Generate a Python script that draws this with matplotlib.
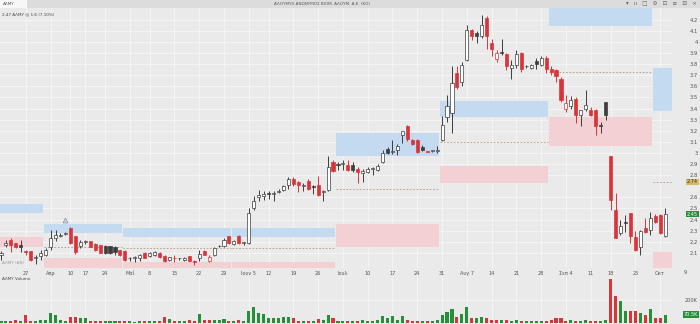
import matplotlib.pyplot as plt
import matplotlib.transforms as mtrans
from matplotlib.patches import Rectangle

# daily OHLC (EUR)
opens = [2.08, 2.17, 2.22, 2.19, 2.17, 2.12, 2.12, 2.05, 2.07, 2.08,
         2.15, 2.23, 2.25, 2.27, 2.32, 2.25, 2.16, 2.20, 2.21, 2.18,
         2.17, 2.16, 2.16, 2.15, 2.13, 2.12, 2.05, 2.05, 2.05, 2.10,
         2.07, 2.08, 2.10, 2.07, 2.04, 2.05, 2.05, 2.04, 2.07, 2.03,
         2.05, 2.12, 2.03, 2.08, 2.16, 2.16, 2.25, 2.18, 2.25, 2.19,
         2.19, 2.50, 2.60, 2.61, 2.64, 2.63, 2.65, 2.67, 2.71, 2.77,
         2.74, 2.70, 2.75, 2.70, 2.71, 2.65, 2.67, 2.92, 2.90, 2.90,
         2.89, 2.89, 2.86, 2.82, 2.83, 2.86, 2.85, 2.92, 3.04, 3.01,
         3.03, 3.16, 3.24, 3.12, 3.12, 3.05, 3.02, 3.02, 3.02, 3.12,
         3.32, 3.36, 3.72, 3.64, 3.84, 4.11, 4.08, 4.05, 4.22, 3.99,
         3.85, 3.91, 3.89, 3.77, 3.79, 3.90, 3.78, 3.77, 3.83, 3.79,
         3.86, 3.76, 3.75, 3.67, 3.40, 3.42, 3.49, 3.34, 3.40, 3.39,
         3.39, 3.25, 3.46, 2.97, 2.49, 2.28, 2.38, 2.46, 2.24, 2.15,
         2.32, 2.31, 2.43, 2.44, 2.25]
highs = [2.12, 2.22, 2.23, 2.19, 2.22, 2.13, 2.12, 2.08, 2.13, 2.14,
         2.31, 2.31, 2.28, 2.29, 2.33, 2.25, 2.22, 2.22, 2.21, 2.19,
         2.17, 2.17, 2.16, 2.16, 2.13, 2.13, 2.06, 2.07, 2.09, 2.11,
         2.11, 2.12, 2.11, 2.08, 2.06, 2.08, 2.05, 2.06, 2.07, 2.04,
         2.13, 2.13, 2.08, 2.15, 2.17, 2.23, 2.25, 2.22, 2.26, 2.20,
         2.50, 2.61, 2.67, 2.66, 2.66, 2.66, 2.68, 2.71, 2.78, 2.78,
         2.75, 2.73, 2.77, 2.71, 2.79, 2.67, 2.97, 2.94, 2.92, 2.94,
         2.94, 2.92, 2.87, 2.86, 2.87, 2.87, 2.90, 3.03, 3.05, 3.12,
         3.08, 3.20, 3.25, 3.13, 3.13, 3.07, 3.02, 3.03, 3.06, 3.33,
         3.52, 3.78, 3.78, 3.82, 4.15, 4.12, 4.10, 4.24, 4.23, 4.03,
         3.93, 4.03, 3.90, 3.84, 3.93, 3.91, 3.79, 3.80, 3.86, 3.87,
         3.87, 3.78, 3.76, 3.68, 3.52, 3.51, 3.50, 3.39, 3.57, 3.41,
         3.40, 3.28, 3.46, 2.97, 2.64, 2.40, 2.44, 2.46, 2.30, 2.31,
         2.41, 2.47, 2.45, 2.45, 2.50]
lows = [2.04, 2.15, 2.11, 2.14, 2.11, 2.08, 2.03, 2.00, 2.04, 2.07,
        2.13, 2.21, 2.24, 2.26, 2.18, 2.09, 2.14, 2.18, 2.15, 2.12,
        2.10, 2.09, 2.09, 2.08, 2.07, 2.03, 2.03, 2.02, 2.03, 2.05,
        2.06, 2.07, 2.05, 2.02, 2.03, 2.02, 2.04, 2.03, 2.03, 1.99,
        2.03, 2.08, 2.02, 2.07, 2.15, 2.15, 2.18, 2.17, 2.18, 2.17,
        2.18, 2.49, 2.57, 2.58, 2.59, 2.57, 2.64, 2.66, 2.68, 2.70,
        2.65, 2.66, 2.67, 2.63, 2.61, 2.57, 2.66, 2.83, 2.85, 2.85,
        2.84, 2.83, 2.73, 2.74, 2.82, 2.80, 2.84, 2.91, 2.99, 2.99,
        2.98, 3.09, 3.11, 3.07, 3.00, 3.02, 3.01, 3.01, 3.00, 3.11,
        3.28, 3.18, 3.58, 3.60, 3.83, 4.02, 3.99, 4.04, 3.94, 3.87,
        3.82, 3.88, 3.75, 3.67, 3.77, 3.73, 3.77, 3.76, 3.76, 3.78,
        3.72, 3.70, 3.64, 3.46, 3.37, 3.40, 3.27, 3.24, 3.38, 3.33,
        3.16, 3.18, 3.30, 2.49, 2.23, 2.26, 2.29, 2.19, 2.12, 2.08,
        2.28, 2.26, 2.37, 2.27, 2.24]
closes = [2.10, 2.19, 2.17, 2.15, 2.15, 2.11, 2.04, 2.06, 2.10, 2.13,
          2.23, 2.26, 2.26, 2.28, 2.19, 2.11, 2.20, 2.21, 2.15, 2.13,
          2.10, 2.10, 2.10, 2.11, 2.08, 2.04, 2.05, 2.06, 2.08, 2.05,
          2.10, 2.11, 2.06, 2.03, 2.06, 2.05, 2.05, 2.05, 2.03, 2.02,
          2.09, 2.08, 2.06, 2.14, 2.16, 2.22, 2.19, 2.21, 2.19, 2.19,
          2.46, 2.57, 2.62, 2.63, 2.63, 2.64, 2.66, 2.70, 2.77, 2.72,
          2.71, 2.71, 2.68, 2.69, 2.62, 2.66, 2.87, 2.84, 2.89, 2.91,
          2.85, 2.85, 2.83, 2.84, 2.86, 2.86, 2.88, 3.00, 3.00, 3.02,
          3.06, 3.20, 3.13, 3.08, 3.01, 3.03, 3.01, 3.02, 3.02, 3.25,
          3.42, 3.63, 3.59, 3.79, 4.11, 4.05, 4.05, 4.15, 4.05, 3.94,
          3.90, 3.90, 3.78, 3.79, 3.89, 3.76, 3.78, 3.79, 3.80, 3.86,
          3.76, 3.73, 3.69, 3.48, 3.45, 3.48, 3.34, 3.39, 3.43, 3.34,
          3.24, 3.24, 3.34, 2.58, 2.23, 2.34, 2.37, 2.25, 2.13, 2.30,
          2.29, 2.41, 2.38, 2.28, 2.45]
# volume in thousands of shares
volumes = [15, 20, 18, 22, 15, 70, 20, 18, 22, 25,
           90, 70, 25, 20, 55, 55, 40, 40, 20, 15,
           18, 20, 15, 18, 15, 20, 15, 12, 15, 18,
           15, 20, 18, 50, 35, 15, 20, 15, 25, 20,
           80, 25, 30, 30, 25, 35, 20, 20, 25, 20,
           105, 140, 90, 80, 40, 40, 45, 50, 50, 40,
           20, 15, 20, 20, 35, 25, 70, 45, 20, 15,
           18, 20, 15, 25, 20, 20, 30, 60, 45, 60,
           30, 60, 25, 20, 20, 15, 15, 18, 30, 70,
           100, 120, 50, 80, 135, 45, 45, 50, 45, 30,
           25, 30, 25, 20, 30, 20, 15, 15, 15, 15,
           18, 25, 40, 45, 20, 25, 20, 18, 25, 15,
           20, 20, 30, 385, 235, 195, 105, 105, 105, 90,
           70, 120, 45, 45, 70.5]

# weekly date axis (trading-day index -> label)
tick_idx = [5, 10, 14, 17, 21, 26, 30, 35, 40, 45, 50, 54, 59, 64, 69,
            74, 79, 84, 89, 94, 99, 104, 109, 114, 119, 123, 128, 133]
tick_labels = ["27", "Απρ", "10", "17", "24", "Μαΐ", "8", "15", "22", "29",
               "Ιουν 5", "12", "19", "26", "Ιουλ", "10", "17", "24", "31",
               "Αυγ 7", "14", "21", "28", "Σεπ 4", "11", "18", "25", "Οκτ"]
extra_tick = (138, "9")

# monthly zones: first trading day of each month, upper (blue) and lower (pink) bands
month_start = [0, 9, 25, 47, 68, 89, 111, 132]
upper_lo = [2.46, 2.28, 2.24, 2.24, 2.97, 3.32, 4.14, 3.38]
upper_hi = [2.54, 2.36, 2.32, 2.32, 3.18, 3.47, 4.32, 3.77]
lower_lo = [2.15, 1.90, 1.90, 1.90, 2.15, 2.73, 3.06, 1.90]
lower_hi = [2.24, 2.05, 2.02, 2.02, 2.36, 2.88, 3.32, 2.11]
mid_line = [None, 2.15, 2.14, 2.14, 2.68, 3.10, 3.73, 2.74]

last_price = closes[-1]
ref_price = 2.74

BG = "#eaeaea"
GRID = "#f6f6f6"
RED = "#d8353b"
DARK = "#3d3d3d"
GREEN = "#23913a"

W, H = 700, 324
fig = plt.figure(figsize=(7, 3.24), dpi=100, facecolor=BG)
ax = fig.add_axes([0, 56 / H, 672 / W, 260 / H], facecolor=BG)
vax = fig.add_axes([0, 1 / H, 672 / W, 46 / H], facecolor=BG, sharex=ax)

n = len(closes)
xs = list(range(n))
xmax = 135.4

# zones
for k, s in enumerate(month_start):
    e = month_start[k + 1] if k + 1 < len(month_start) else xmax + 2
    x0, x1 = s - 0.4, e - 0.6
    ax.add_patch(Rectangle((x0, upper_lo[k]), x1 - x0, upper_hi[k] - upper_lo[k],
                           fc="#c4daf0", ec="none", zorder=1))
    ax.add_patch(Rectangle((x0, lower_lo[k]), x1 - x0, lower_hi[k] - lower_lo[k],
                           fc="#f3d0d4", ec="none", zorder=1))
    if mid_line[k] is not None:
        ax.hlines(mid_line[k], x0, x1, colors="#b39b7a", linestyles=(0, (2, 2)),
                  lw=0.6, zorder=1.5)

# candles (hollow style)
edge, fill, vcol = [], [], []
for i in range(n):
    prev = closes[i - 1] if i > 0 else opens[i]
    c = RED if closes[i] < prev else DARK
    edge.append(c)
    fill.append(c if closes[i] < opens[i] else "white")
    vcol.append(RED if closes[i] < prev else GREEN)

ax.vlines(xs, lows, highs, colors=edge, lw=0.7, zorder=2)
bottoms = [min(o, c) for o, c in zip(opens, closes)]
heights = [max(abs(c - o), 0.006) for o, c in zip(opens, closes)]
ax.bar(xs, heights, bottom=bottoms, width=0.62, color=fill, edgecolor=edge,
       linewidth=0.5, zorder=3)

# signal marker
ax.plot([13], [2.40], marker="^", ms=3.5, mfc="#c9d6e6", mec="#7f93ab", mew=0.5,
        ls="none", zorder=4)

ax.set_xlim(-0.2, xmax)
ax.set_ylim(1.964, 4.306)

# 2.7 sits under the highlighted reference-price tag
yt = [round(2.1 + 0.1 * k, 1) for k in range(22) if k != 6]
ax.set_yticks(yt)
ax.set_yticklabels([f"{v:g}" for v in yt])
ax.yaxis.tick_right()
ax.tick_params(axis="y", length=0, pad=18.5, labelsize=3.8, colors="#555555")
for t in ax.get_yticklabels():
    t.set_horizontalalignment("right")

ax.set_xticks(tick_idx)
ax.set_xticklabels(tick_labels)
ax.tick_params(axis="x", length=0, pad=2.2, labelsize=3.6, colors="#555555")
ax.text(extra_tick[0], -0.019, extra_tick[1], transform=ax.get_xaxis_transform(),
        ha="center", va="center", fontsize=3.6, color="#555555")

ax.grid(True, color=GRID, lw=0.6, zorder=0)
ax.set_axisbelow(True)
for sp in ax.spines.values():
    sp.set_visible(False)

# right-axis highlighted labels
bl = mtrans.blended_transform_factory(ax.transAxes, ax.transData)
ax.text(1.0387, ref_price, f"{ref_price:.2f}", transform=bl, ha="right", va="center",
        fontsize=3.6, color="#333333", zorder=6,
        bbox=dict(boxstyle="square,pad=0.15", fc="#d9b862", ec="none"))
ax.text(1.0387, last_price, f"{last_price:.2f}", transform=bl, ha="right", va="center",
        fontsize=3.6, color="white", zorder=6,
        bbox=dict(boxstyle="square,pad=0.15", fc=GREEN, ec="none"))

ax.text(0.003, 0.985, "2.47 ΑΛΜΥ @ 1.6 (7.10%)", transform=ax.transAxes,
        ha="left", va="top", fontsize=3, color="#444444")
ax.text(0.003, 0.012, "ΑΛΜΥ (ΑΝ)", transform=ax.transAxes, ha="left", va="bottom",
        fontsize=3, color="#9a9a9a")

# volume panel
vax.bar(xs, volumes, width=0.62, color=vcol, zorder=3)
vax.set_ylim(0, 400)
vax.set_yticks([200])
vax.set_yticklabels(["200K"])
vax.yaxis.tick_right()
vax.tick_params(axis="y", length=0, pad=18.5, labelsize=3.6, colors="#555555")
for t in vax.get_yticklabels():
    t.set_horizontalalignment("right")
vax.tick_params(axis="x", length=0, labelbottom=False)
vax.grid(True, color=GRID, lw=0.6, zorder=0)
vax.set_axisbelow(True)
for sp in vax.spines.values():
    sp.set_visible(False)
vax.text(0.003, 0.99, "ΑΛΜΥ Volume", transform=vax.transAxes, ha="left", va="top",
         fontsize=3, color="#444444")
vbl = mtrans.blended_transform_factory(vax.transAxes, vax.transData)
vax.text(1.0387, volumes[-1], f"{volumes[-1]:.1f}K", transform=vbl, ha="right",
         va="center", fontsize=3.6, color="white", zorder=6,
         bbox=dict(boxstyle="square,pad=0.2", fc=GREEN, ec="none"))

# window header strip
fig.patches.append(Rectangle((0, 1 - 8 / H), 1, 8 / H, transform=fig.transFigure,
                             fc="#dcdcdc", ec="none", zorder=0))
fig.patches.append(Rectangle((0, 1 - 8 / H), 27 / W, 8 / H, transform=fig.transFigure,
                             fc="#f7f7f7", ec="none", zorder=0))
fig.text(3 / W, 1 - 4 / H, "ΑΛΜΥ", ha="left", va="center", fontsize=3, color="#555555")
fig.text(322 / W, 1 - 4 / H, "ΑΛΟΥΜΥΛ ΑΝΩΝΥΜΟΣ ΒΙΟΜ. ΑΛΟΥΜ. Α.Ε. (ΚΟ)",
         ha="center", va="center", fontsize=3, color="#555555")
fig.text(697 / W, 1 - 4 / H, "▾   ıı   □   ⊖   ⊡   ≡   ⊟   ×", ha="right",
         va="center", fontsize=4, color="#666666")

fig.savefig("out.png", dpi=100, facecolor=BG)
